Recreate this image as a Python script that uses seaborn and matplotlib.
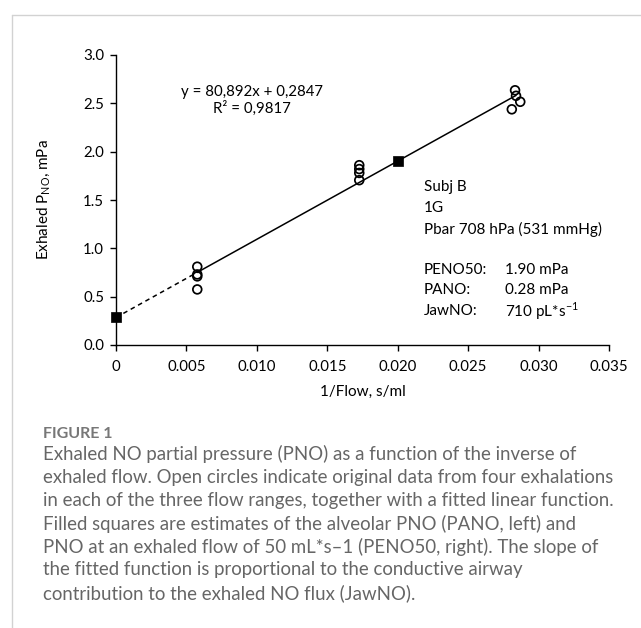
import numpy as np
import pandas as pd
import matplotlib
matplotlib.use("Agg")
import matplotlib.pyplot as plt
from matplotlib.lines import Line2D
import seaborn as sns

# ---------------- data ----------------
x_low = [0.00577, 0.00577, 0.00577, 0.00577]
y_low = [0.81, 0.73, 0.71, 0.575]
x_mid = [0.01727, 0.01727, 0.01727, 0.01727]
y_mid = [1.86, 1.82, 1.78, 1.705]
x_high = [0.02833, 0.0284, 0.0287, 0.0281]
y_high = [2.635, 2.578, 2.516, 2.438]
x_squares = [0.0, 0.020]
y_squares = [0.2847, 1.90]
slope = 80.892
intercept = 0.2847
x_ticks = [0, 0.005, 0.010, 0.015, 0.020, 0.025, 0.030, 0.035]
x_ticklabels = ["0", "0.005", "0.010", "0.015", "0.020", "0.025", "0.030", "0.035"]
y_ticks = [0.0, 0.5, 1.0, 1.5, 2.0, 2.5, 3.0]
y_ticklabels = ["0.0", "0.5", "1.0", "1.5", "2.0", "2.5", "3.0"]
equation_text = "y = 80,892x + 0,2847\nR² = 0,9817"
info_labels = ["PENO50:", "PANO:", "JawNO:"]
info_values = ["1.90 mPa", "0.28 mPa", r"710 pL*s$^{\mathregular{-1}}$"]
header_lines = ["Subj B", "1G", "Pbar 708 hPa (531 mmHg)"]
caption_title = "FIGURE 1"
caption_lines = [
    "Exhaled NO partial pressure (PNO) as a function of the inverse of",
    "exhaled flow. Open circles indicate original data from four exhalations",
    "in each of the three flow ranges, together with a fitted linear function.",
    "Filled squares are estimates of the alveolar PNO (PANO, left) and",
    "PNO at an exhaled flow of 50 mL*s\u20131 (PENO50, right). The slope of",
    "the fitted function is proportional to the conductive airway",
    "contribution to the exhaled NO flux (JawNO).",
]

# ---------------- style ----------------
sns.set_style("white")
plt.rcParams["font.family"] = ["Lato", "DejaVu Sans"]
plt.rcParams["mathtext.fontset"] = "custom"
plt.rcParams["mathtext.rm"] = "Lato"

W, H = 641, 628
fig = plt.figure(figsize=(W / 100, H / 100), dpi=100)
fig.patch.set_facecolor("white")

def fx(px):
    return px / W

def fy(py):
    return 1 - py / H

ax_l, ax_r, ax_t, ax_b = 116, 609, 55, 345
ax = fig.add_axes([fx(ax_l), fy(ax_b), fx(ax_r - ax_l), (ax_b - ax_t) / H])
ax.set_facecolor("white")

# points
obs = pd.DataFrame({
    "x": x_low + x_mid + x_high,
    "y": y_low + y_mid + y_high,
})
sns.scatterplot(data=obs, x="x", y="y", ax=ax, marker="o", s=40,
                facecolors="none", edgecolor="black", linewidth=1.25, zorder=3)

# fitted line: dashed extrapolation and solid fit range
x_fit_lo = min(obs["x"])
x_fit_hi = max(obs["x"]) - 0.0003
fit_solid = pd.DataFrame({"x": [x_fit_lo, x_fit_hi]})
fit_solid["y"] = slope * fit_solid["x"] + intercept
fit_dash = pd.DataFrame({"x": [0.0, x_fit_lo]})
fit_dash["y"] = slope * fit_dash["x"] + intercept
sns.lineplot(data=fit_solid, x="x", y="y", ax=ax, color="black", linewidth=1.1, zorder=2)
sns.lineplot(data=fit_dash, x="x", y="y", ax=ax, color="black", linewidth=1.1,
             dashes=False, zorder=2)
ax.lines[-1].set_linestyle((0, (3, 2.5)))

sq = pd.DataFrame({"x": x_squares, "y": y_squares})
sns.scatterplot(data=sq, x="x", y="y", ax=ax, marker="s", s=50,
                color="black", edgecolor="black", linewidth=0.5, zorder=4, clip_on=False)

# axes
ax.set_xlim(0, 0.035)
ax.set_ylim(0, 3.0)
ax.set_xticks(x_ticks)
ax.set_xticklabels(x_ticklabels)
ax.set_yticks(y_ticks)
ax.set_yticklabels(y_ticklabels)
for s in ["top", "right"]:
    ax.spines[s].set_visible(False)
for s in ["left", "bottom"]:
    ax.spines[s].set_color("black")
    ax.spines[s].set_linewidth(1.0)
ax.tick_params(axis="both", which="major", direction="out", length=4.5, width=1.0,
               color="black", labelsize=10.8, labelcolor="black", pad=4, bottom=True, left=True)
ax.tick_params(axis="x", pad=6)
ax.set_xlabel("1/Flow, s/ml", fontsize=11, color="black")
ax.set_ylabel(r"Exhaled P$_{\mathregular{NO}}$, mPa", fontsize=11, color="black")
ax.xaxis.set_label_coords(0.5, -(391.7 - ax_b) / (ax_b - ax_t), transform=ax.transAxes)
ax.yaxis.set_label_coords(-(ax_l - 44) / (ax_r - ax_l), 0.5, transform=ax.transAxes)
ax.xaxis.label.set_va("center")
ax.yaxis.label.set_va("center")

# annotations
ax.text(0.00966, 2.525, equation_text, ha="center", va="center", fontsize=10.8,
        color="black", linespacing=1.15)
x_info = 0.02187
x_val = 0.02762
header_y = [1.631, 1.42, 1.197]
for t, yy in zip(header_lines, header_y):
    ax.text(x_info, yy, t, ha="left", va="center", fontsize=11, color="black")
info_y = [0.776, 0.569, 0.352]
for lab, val, yy in zip(info_labels, info_values, info_y):
    ax.text(x_info, yy, lab, ha="left", va="center", fontsize=11, color="black")
    ax.text(x_val, yy, val, ha="left", va="center", fontsize=11, color="black")

# border lines of the page frame
fig.add_artist(Line2D([fx(11.5), fx(11.5)], [0, fy(14.5)], color="#d2d2d2", lw=1.0,
                      transform=fig.transFigure))
fig.add_artist(Line2D([fx(11.5), 1], [fy(14.5), fy(14.5)], color="#d2d2d2", lw=1.0,
                      transform=fig.transFigure))

# caption
fig.text(fx(43), fy(434), caption_title, ha="left", va="center", fontsize=11.5,
         fontweight="bold", color="#777777")
cap_y0 = 454
cap_dy = 23.2
for i, line in enumerate(caption_lines):
    fig.text(fx(43), fy(cap_y0 + i * cap_dy), line, ha="left", va="center",
             fontsize=13.4, fontweight="normal", color="#666666")

fig.savefig("out.png", dpi=100, facecolor="white")
